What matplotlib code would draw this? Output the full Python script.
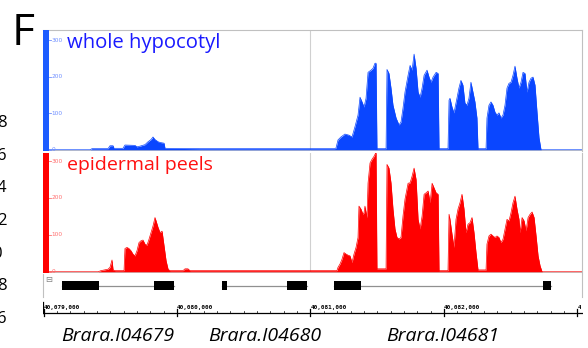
import matplotlib
matplotlib.use('Agg')
import matplotlib.pyplot as plt
from matplotlib.patches import Rectangle
from matplotlib.transforms import blended_transform_factory
import numpy as np

# region shown: 40,079,000 - 40,083,000
CHR_START = 40079000
X_MIN = 40078996
X_MAX = 40083034

# read coverage, positions in bp from CHR_START
hyp_pos = [0, 348, 363, 483, 498, 521, 528, 595, 610, 685, 700, 723, 760, 783, 805, 820,
           835, 858, 873, 903, 910, 1172, 1547, 1921, 2183, 2191, 2206, 2228, 2258, 2288,
           2311, 2333, 2356, 2371, 2386, 2401, 2416, 2431, 2453, 2468, 2483, 2491, 2498,
           2566, 2573, 2588, 2603, 2618, 2641, 2663, 2678, 2693, 2708, 2731, 2746, 2761,
           2776, 2791, 2806, 2821, 2836, 2851, 2873, 2888, 2903, 2918, 2941, 2956, 2963,
           3030, 3038, 3045, 3060, 3075, 3097, 3112, 3127, 3142, 3157, 3172, 3187, 3202,
           3217, 3232, 3247, 3255, 3315, 3322, 3337, 3352, 3367, 3382, 3397, 3412, 3427,
           3442, 3457, 3472, 3487, 3502, 3517, 3532, 3547, 3562, 3577, 3592, 3607, 3622,
           3637, 3652, 3667, 3682, 3697, 3712, 3727, 4034]
hyp_cov = [0, 0, 3, 3, 11, 11, 4, 4, 13, 12, 8, 10, 14, 22, 28, 35,
           28, 22, 20, 18, 4, 3, 3, 3, 3, 5, 27, 35, 43, 40,
           35, 63, 95, 144, 131, 117, 141, 212, 218, 223, 237, 237, 3,
           3, 220, 209, 169, 122, 87, 68, 76, 114, 158, 204, 231, 218,
           262, 223, 158, 144, 169, 204, 218, 199, 185, 199, 212, 209, 3,
           3, 136, 141, 117, 101, 141, 169, 190, 177, 128, 122, 141, 185,
           158, 131, 87, 3, 3, 87, 122, 131, 122, 103, 95, 101, 87,
           95, 122, 169, 182, 185, 204, 229, 196, 169, 185, 212, 209, 158,
           185, 196, 199, 177, 103, 33, 0, 0]

epi_pos = [0, 408, 430, 483, 498, 513, 521, 536, 603, 610, 625, 640, 655, 670, 685, 700,
           715, 730, 745, 760, 775, 790, 805, 820, 835, 843, 858, 873, 888, 903, 918, 933,
           947, 1045, 1060, 1082, 1097, 1547, 1921, 2146, 2198, 2206, 2221, 2236, 2251,
           2266, 2281, 2296, 2311, 2326, 2341, 2356, 2363, 2378, 2393, 2401, 2408, 2423,
           2431, 2446, 2461, 2476, 2491, 2498, 2566, 2573, 2588, 2603, 2618, 2633, 2648,
           2663, 2678, 2693, 2708, 2731, 2746, 2761, 2776, 2791, 2806, 2821, 2836, 2851,
           2866, 2881, 2896, 2911, 2926, 2941, 2956, 2963, 3030, 3038, 3045, 3060, 3075,
           3090, 3105, 3120, 3135, 3150, 3165, 3180, 3195, 3210, 3225, 3240, 3255, 3315,
           3322, 3337, 3352, 3367, 3382, 3397, 3412, 3427, 3442, 3457, 3472, 3487, 3502,
           3517, 3532, 3547, 3562, 3570, 3585, 3600, 3615, 3630, 3645, 3660, 3675, 3690,
           3705, 3720, 3735, 4034]
epi_cov = [0, 0, 3, 7, 12, 32, 5, 3, 3, 63, 66, 63, 57, 48, 43, 57,
           79, 84, 86, 75, 72, 88, 106, 124, 147, 138, 120, 106, 110, 70, 30, 7,
           3, 3, 8, 8, 3, 3, 3, 3, 3, 12, 21, 34, 52,
           48, 45, 43, 25, 48, 66, 93, 178, 170, 156, 160, 178, 146,
           240, 295, 305, 313, 324, 8, 8, 291, 281, 241, 170, 116, 93,
           89, 93, 151, 197, 240, 241, 259, 281, 250, 142, 116, 151, 210,
           214, 219, 187, 240, 227, 214, 210, 3, 3, 156, 142, 102, 66,
           142, 170, 187, 210, 170, 106, 129, 133, 147, 106, 52, 5, 5,
           75, 97, 102, 97, 93, 97, 93, 79, 88, 115, 142, 138, 160,
           187, 205, 170, 142, 106, 147, 138, 111, 147, 156, 162, 147, 97,
           43, 16, 0, 0]

track_names = ['whole hypocotyl', 'epidermal peels']
cov_ticks = [0, 100, 200, 300]

gene_names = ['Brara.I04679', 'Brara.I04680', 'Brara.I04681']
gene_exons = [[(139, 416), (828, 977)],
              [(1337, 1375), (1824, 1974)],
              [(2176, 2378), (3741, 3801)]]

ruler_ticks = [40079000, 40080000, 40081000, 40082000, 40083000]
side_labels = ['8', '6', '4', '2', '0', '8', '6']

W, H = 588, 348
fig = plt.figure(figsize=(W / 100, H / 100), dpi=100)
plt.rcParams['font.family'] = ['Open Sans', 'DejaVu Sans']


def px_axes(left, top, right, bottom):
    return fig.add_axes([left / W, 1 - bottom / H, (right - left) / W, (bottom - top) / H])


def fy(y):
    return 1 - y / H


def coverage_track(ax, pos, cov, color, bar_color, tick_color, ymax, top_line):
    x = CHR_START + np.array(pos)
    y = np.array(cov)
    ax.fill_between(x, y, 0, color=color, lw=0)
    ax.plot(x, y, color=color, lw=0.5)
    ax.axhline(0, color='#c8c8c8', lw=0.8, zorder=0)
    ax.axvline(40081000, color='#d0d0d0', lw=0.8, zorder=0)
    ax.set_xlim(X_MIN, X_MAX)
    ax.set_ylim(-2, ymax)
    ax.set_xticks([])
    ax.set_yticks([])
    for s in ['left', 'bottom']:
        ax.spines[s].set_visible(False)
    ax.spines['top'].set_visible(top_line)
    for s in ['top', 'right']:
        ax.spines[s].set_color('#c0c0c0')
        ax.spines[s].set_linewidth(0.8)
    tr = ax.get_yaxis_transform()
    for t in cov_ticks:
        ax.plot([0.011, 0.015], [t, t], color=tick_color, lw=0.6, transform=tr, clip_on=False)
        ax.text(0.016, t, str(t), color=tick_color, fontsize=4.2, ha='left', va='center',
                transform=tr, family='DejaVu Sans')
    ax.add_patch(Rectangle((0, 0), 0.0115, 1, transform=ax.transAxes, color=bar_color,
                           lw=0, clip_on=False, zorder=5))


ax1 = px_axes(43, 30, 582, 150.5)
coverage_track(ax1, hyp_pos, hyp_cov, '#0a46ff', '#1c5cff', '#6f8fff', 328, True)
fig.text(67 / W, fy(48), track_names[0], color='#1a1aff', fontsize=14.6, ha='left', va='baseline')

ax2 = px_axes(43, 153, 582, 272.5)
coverage_track(ax2, epi_pos, epi_cov, '#ff0000', '#ff0000', '#ff7070', 322, False)
fig.text(67 / W, fy(170), track_names[1], color='#ff1010', fontsize=14, ha='left', va='baseline')

# gene models
ax3 = px_axes(43, 274, 582, 297)
ax3.set_xlim(X_MIN, X_MAX)
ax3.set_ylim(-1, 1)
ax3.set_xticks([])
ax3.set_yticks([])
for s in ['top', 'bottom']:
    ax3.spines[s].set_visible(False)
for s in ['left', 'right']:
    ax3.spines[s].set_color('#c0c0c0')
    ax3.spines[s].set_linewidth(0.8)
for exons in gene_exons:
    start = CHR_START + exons[0][0]
    end = CHR_START + exons[-1][1]
    ax3.plot([start, end], [0, 0], color='#909090', lw=0.9, zorder=1)
    for a, b in exons:
        ax3.add_patch(Rectangle((CHR_START + a, -0.35), b - a, 0.7, color='black', lw=0, zorder=2))
ax3.text(0.005, 0.78, '\u229f', transform=ax3.transAxes, fontsize=6, color='#808080',
         ha='left', va='center', family='DejaVu Sans')

# ruler
ax4 = px_axes(43, 300, 583, 320)
ax4.set_xlim(X_MIN, X_MIN + (X_MAX - X_MIN) * (583 - 43) / (582 - 43))
ax4.set_ylim(0, 1)
ax4.axis('off')
ax4.plot([X_MIN, ax4.get_xlim()[1]], [0.35, 0.35], color='black', lw=0.9)
ax4.plot([X_MIN, X_MIN], [0.35, 0.9], color='black', lw=0.9)
for t in range(CHR_START, X_MAX + 100, 100):
    ax4.plot([t, t], [0.35, 0.45], color='black', lw=0.5)
for t in ruler_ticks:
    ax4.plot([t, t], [0.2, 0.55], color='black', lw=0.9)
    ax4.text(t, 0.65, f'{t:,}', fontsize=4.3, family='DejaVu Sans Mono',
             fontweight='bold', ha='left', va='center')
# the browser window ends here, hide what spills past it
fig.patches.append(Rectangle((581 / W, fy(311)), (W - 581) / W, 9 / H, color='white',
                             lw=0, transform=fig.transFigure, figure=fig, zorder=10))

# gene names under the ruler
name_tr = blended_transform_factory(ax4.transData, fig.transFigure)
for name, exons in zip(gene_names, gene_exons):
    mid = CHR_START + (exons[0][0] + exons[-1][1]) / 2
    fig.text(mid, fy(341), name, transform=name_tr, fontsize=14, style='italic',
             ha='center', va='baseline')

fig.text(12 / W, fy(45), 'F', fontsize=32, ha='left', va='baseline')

# tick labels of the neighbouring panel, cut at the edge
for i, lab in enumerate(side_labels):
    x_right = 1.5 if lab == '0' else 6.5
    fig.text(x_right / W, fy(127 + i * 32.7), lab, fontsize=12, ha='right', va='baseline')

fig.savefig('out.png', dpi=100)
